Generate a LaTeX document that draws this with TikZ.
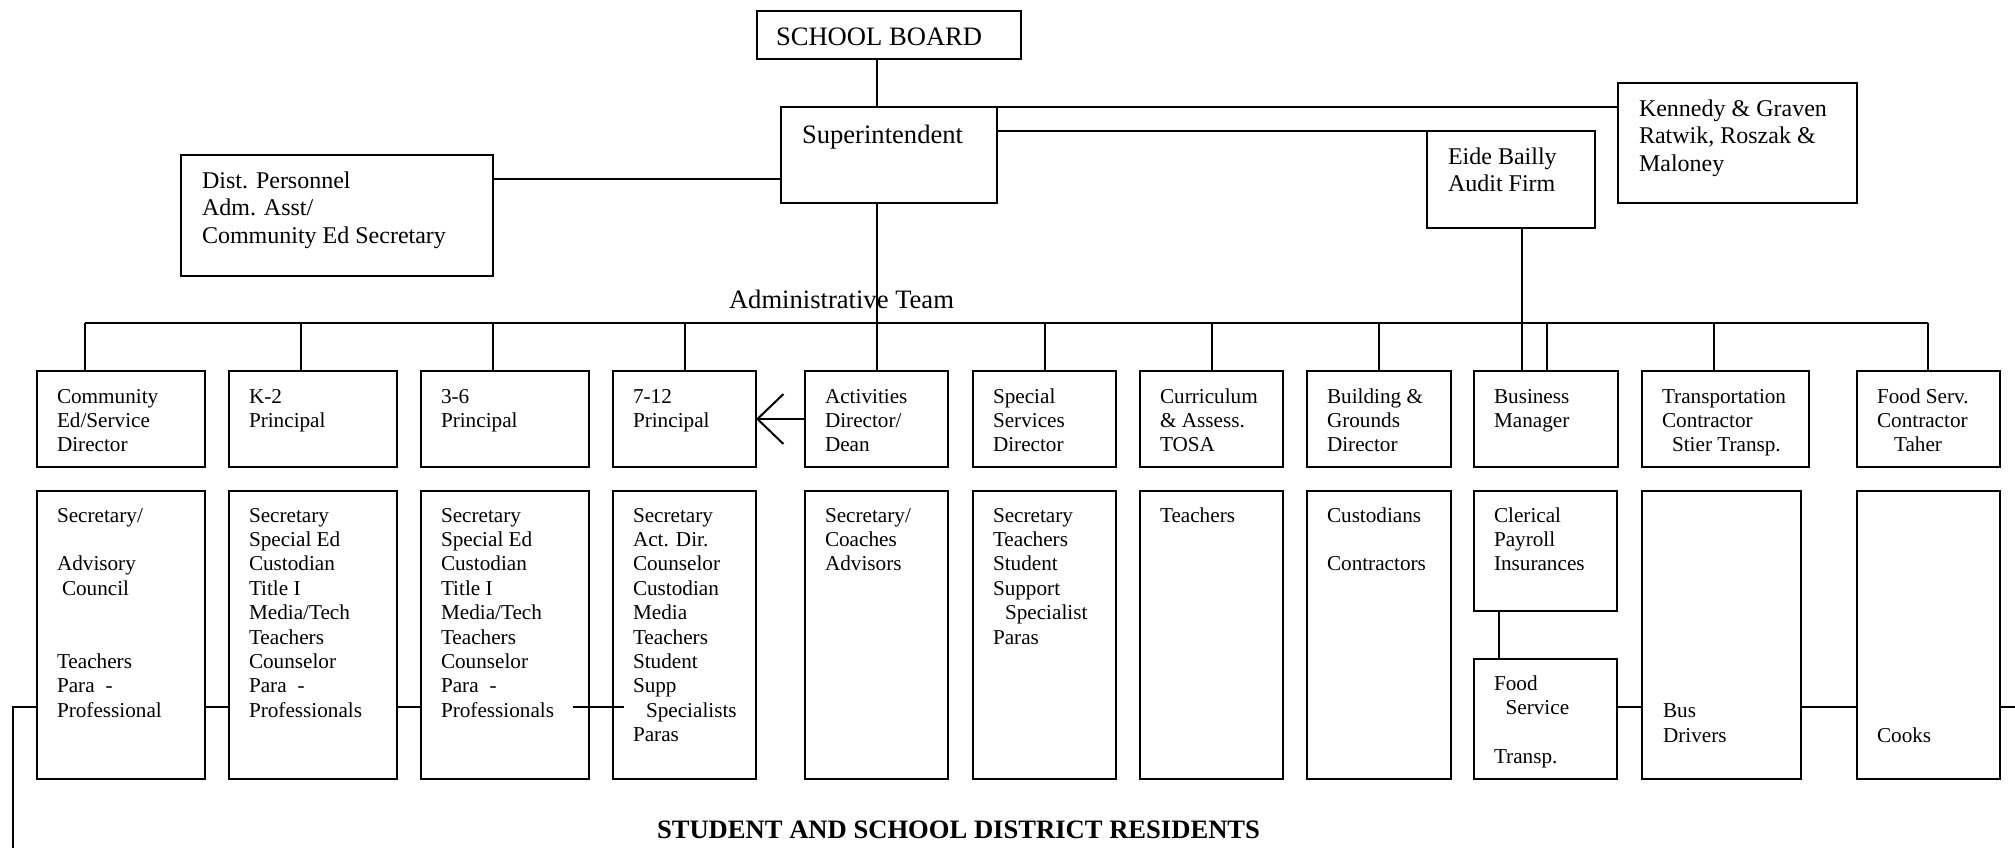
\documentclass[tikz,border=0pt]{standalone}
\usepackage{fontspec}
\setmainfont{Liberation Serif}
\usetikzlibrary{calc,arrows.meta}
\newcommand\mkbox[5]{\node[box, minimum width={(#4-#2)*0.5pt}, minimum height={(#5-#3)*0.5pt}] (#1) at (#2,#3) {};}
\begin{document}
\begin{tikzpicture}[x=0.5pt,y=-0.5pt,
 box/.style={draw, line width=1pt, anchor=north west, inner sep=0pt, outer sep=0pt},
 big/.style={anchor=north west, inner sep=0pt, outer sep=0pt, align=left, font=\fontsize{13.3}{13.75}\selectfont},
 mid/.style={anchor=north west, inner sep=0pt, outer sep=0pt, align=left, font=\fontsize{12}{13.75}\selectfont},
 sm/.style={anchor=north west, inner sep=0pt, outer sep=0pt, align=left, font=\fontsize{10.6}{12.2}\selectfont},
 conn/.style={line width=1pt}]
\useasboundingbox (0,0) rectangle (2015,848);

% upper boxes
\mkbox{sb}{757}{11}{1021}{59}
\node[big] (sbt) at ($(sb.north west)+(19,14.75)$) {\strut SCHOOL BOARD};
\mkbox{sup}{781}{107}{997}{203}
\node[big] (supt) at ($(sup.north west)+(21,16.75)$) {\strut Superintendent};
\mkbox{dist}{181}{155}{493}{276}
\node[mid] (distt) at ($(dist.north west)+(21,13.75)$) {\strut Dist. Personnel\\Adm. Asst/\\Community Ed Secretary};
\mkbox{eide}{1427}{131}{1595}{228}
\node[mid] (eidet) at ($(eide.north west)+(21,13.75)$) {\strut Eide Bailly\\Audit Firm};
\mkbox{ken}{1618}{83}{1857}{203}
\node[mid] (kent) at ($(ken.north west)+(21,13.75)$) {\strut Kennedy \& Graven\\Ratwik, Roszak \&\\Maloney};

\node[big] (adm) at (729,288.75) {\strut Administrative Team};
\node[big, font=\fontsize{13.3}{13.75}\selectfont\bfseries] (res) at (657,818.75) {\strut STUDENT AND SCHOOL DISTRICT RESIDENTS};

% top row
\mkbox{t1}{37}{371}{205}{467}
\mkbox{t2}{229}{371}{397}{467}
\mkbox{t3}{421}{371}{589}{467}
\mkbox{t4}{613}{371}{756}{467}
\mkbox{t5}{805}{371}{948}{467}
\mkbox{t6}{973}{371}{1116}{467}
\mkbox{t7}{1140}{371}{1283}{467}
\mkbox{t8}{1307}{371}{1451}{467}
\mkbox{t9}{1474}{371}{1618}{467}
\mkbox{t10}{1642}{371}{1809}{467}
\mkbox{t11}{1857}{371}{2000}{467}
\node[sm] (t1t) at ($(t1.north west)+(20,14.92)$) {\strut Community\\Ed/Service\\Director};
\node[sm] (t2t) at ($(t2.north west)+(20,14.92)$) {\strut K-2\\Principal};
\node[sm] (t3t) at ($(t3.north west)+(20,14.92)$) {\strut 3-6\\Principal};
\node[sm] (t4t) at ($(t4.north west)+(20,14.92)$) {\strut 7-12\\Principal};
\node[sm] (t5t) at ($(t5.north west)+(20,14.92)$) {\strut Activities\\Director/\\Dean};
\node[sm] (t6t) at ($(t6.north west)+(20,14.92)$) {\strut Special\\Services\\Director};
\node[sm] (t7t) at ($(t7.north west)+(20,14.92)$) {\strut Curriculum\\\& Assess.\\TOSA};
\node[sm] (t8t) at ($(t8.north west)+(20,14.92)$) {\strut Building \&\\Grounds\\Director};
\node[sm] (t9t) at ($(t9.north west)+(20,14.92)$) {\strut Business\\Manager};
\node[sm] (t10t) at ($(t10.north west)+(20,14.92)$) {\strut Transportation\\Contractor\\\hspace*{5pt}Stier Transp.};
\node[sm] (t11t) at ($(t11.north west)+(20,14.92)$) {\strut Food Serv.\\Contractor\\\hspace*{8.5pt}Taher};

% bottom row
\mkbox{b1}{37}{491}{205}{779}
\mkbox{b2}{229}{491}{397}{779}
\mkbox{b3}{421}{491}{589}{779}
\mkbox{b4}{613}{491}{756}{779}
\mkbox{b5}{805}{491}{948}{779}
\mkbox{b6}{973}{491}{1116}{779}
\mkbox{b7}{1140}{491}{1283}{779}
\mkbox{b8}{1307}{491}{1451}{779}
\mkbox{cl}{1474}{491}{1617}{611}
\mkbox{fs}{1474}{659}{1617}{779}
\mkbox{bd}{1642}{491}{1801}{779}
\mkbox{ck}{1857}{491}{2000}{779}
\node[sm] (b1t) at ($(b1.north west)+(20,13.92)$) {\strut Secretary/\\\mbox{}\\Advisory\\\hspace*{2.5pt}Council\\\mbox{}\\\mbox{}\\Teachers\\Para\hspace{5.5pt}-\\Professional};
\node[sm] (b2t) at ($(b2.north west)+(20,13.92)$) {\strut Secretary\\Special Ed\\Custodian\\Title I\\Media/Tech\\Teachers\\Counselor\\Para\hspace{5.5pt}-\\Professionals};
\node[sm] (b3t) at ($(b3.north west)+(20,13.92)$) {\strut Secretary\\Special Ed\\Custodian\\Title I\\Media/Tech\\Teachers\\Counselor\\Para\hspace{5.5pt}-\\Professionals};
\node[sm] (b4t) at ($(b4.north west)+(20,13.92)$) {\strut Secretary\\Act. Dir.\\Counselor\\Custodian\\Media\\Teachers\\Student\\Supp\\\hspace*{6.5pt}Specialists\\Paras};
\node[sm] (b5t) at ($(b5.north west)+(20,13.92)$) {\strut Secretary/\\Coaches\\Advisors};
\node[sm] (b6t) at ($(b6.north west)+(20,13.92)$) {\strut Secretary\\Teachers\\Student\\Support\\\hspace*{6pt}Specialist\\Paras};
\node[sm] (b7t) at ($(b7.north west)+(20,13.92)$) {\strut Teachers};
\node[sm] (b8t) at ($(b8.north west)+(20,13.92)$) {\strut Custodians\\\mbox{}\\Contractors};
\node[sm] (clt) at ($(cl.north west)+(20,13.92)$) {\strut Clerical\\Payroll\\Insurances};
\node[sm] (fst) at ($(fs.north west)+(20,13.92)$) {\strut Food\\\hspace*{5.8pt}Service\\\mbox{}\\Transp.};
\node[sm] (bdt) at ($(bd.north west)+(21,209.9)$) {\strut Bus\\Drivers};
\node[sm] (ckt) at ($(ck.north west)+(20,234.9)$) {\strut Cooks};

% connectors top
\coordinate (spine) at (877,0);
\draw[conn] (sb.south -| spine) -- (sup.north -| spine);
\draw[conn] (sup.south -| spine) -- (t5.north -| spine);
\coordinate (dly) at (0,179);
\draw[conn] (dist.east |- dly) -- (sup.west |- dly);
\draw[conn] (sup.north east) -- (ken.west |- sup.north east);
\draw[conn] (sup.east |- eide.north) -- (eide.north west);
\coordinate (eidex) at (1522,0);
\draw[conn] (eide.south -| eidex) -- (t9.north -| eidex);

% bus
\coordinate (busl) at (85,323);
\coordinate (busr) at (1928,323);
\draw[conn] (busl) -- (busr);
\draw[conn] (busl) -- (t1.north -| busl);
\coordinate (d2) at (301,323);
\draw[conn] (d2) -- (t2.north -| d2);
\coordinate (d3) at (493,323);
\draw[conn] (d3) -- (t3.north -| d3);
\draw[conn] (t4.north |- busl) -- (t4.north);
\draw[conn] (t6.north |- busl) -- (t6.north);
\draw[conn] (t7.north |- busl) -- (t7.north);
\draw[conn] (t8.north |- busl) -- (t8.north);
\coordinate (d9) at (1547,323);
\draw[conn] (d9) -- (t9.north -| d9);
\coordinate (d10) at (1714,323);
\draw[conn] (d10) -- (t10.north -| d10);
\draw[conn] (busr) -- (t11.north -| busr);

% arrow
\draw[conn, -{Straight Barb[length=13pt, width=25pt]}] (t5.west) -- (t4.east);

% bottom connectors
\coordinate (hy) at (0,707);
\coordinate (lft) at (13,707);
\coordinate (lftb) at (13,848);
\draw[conn] (b1.west |- hy) -- (lft) -- (lftb);
\draw[conn] (b1.east |- hy) -- (b2.west |- hy);
\draw[conn] (b2.east |- hy) -- (b3.west |- hy);
\draw[conn] ($(b3.east |- hy)+(-16,0)$) -- ($(b4.west |- hy)+(11,0)$);
\coordinate (clx) at (1499,0);
\draw[conn] (cl.south -| clx) -- (fs.north -| clx);
\draw[conn] (fs.east |- hy) -- (bd.west |- hy);
\draw[conn] (bd.east |- hy) -- (ck.west |- hy);
\coordinate (rgt) at (2015,707);
\draw[conn] (ck.east |- hy) -- (rgt);
\end{tikzpicture}
\end{document}
